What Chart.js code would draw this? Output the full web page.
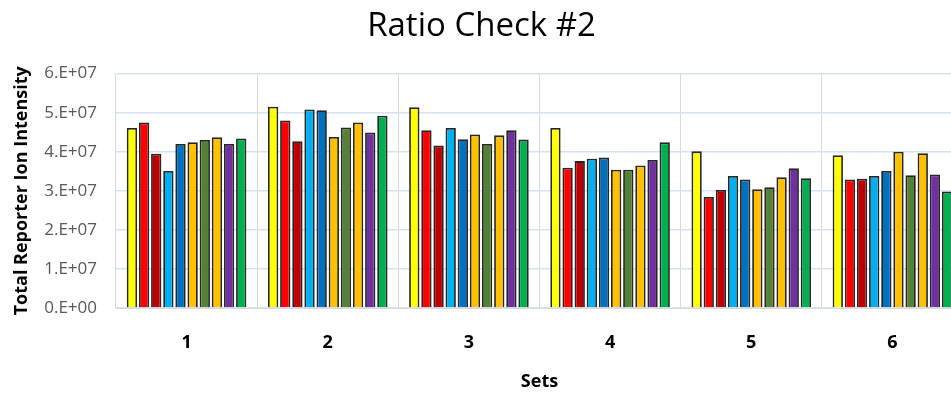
<!DOCTYPE html>
<html>
<head>
<meta charset="utf-8">
<script src="https://cdn.jsdelivr.net/npm/chart.js@4.4.0/dist/chart.umd.min.js"></script>
<style>
  html, body { margin: 0; padding: 0; background: #fff; overflow: hidden; }
  #wrap { width: 966px; height: 393px; }
</style>
</head>
<body>
<div id="wrap"><canvas id="ratioChart" width="966" height="393"></canvas></div>
<script>
// Sets on the x axis
const sets = ['1', '2', '3', '4', '5', '6'];

// Reporter channels (one bar colour each)
const channels = ['126', '127N', '127C', '128N', '128C', '129N', '129C', '130N', '130C', '131'];
const channelColors = ['#FFFF00', '#FF0000', '#C00000', '#00B0F0', '#0070C0',
                       '#FFC000', '#548235', '#FFC000', '#7030A0', '#00B050'];

// Total reporter ion intensity per channel, one value per set
const ch126  = [4.61e7, 5.15e7, 5.14e7, 4.61e7, 4.01e7, 3.91e7];
const ch127N = [4.75e7, 4.80e7, 4.55e7, 3.59e7, 2.84e7, 3.29e7];
const ch127C = [3.95e7, 4.27e7, 4.16e7, 3.76e7, 3.02e7, 3.31e7];
const ch128N = [3.51e7, 5.08e7, 4.61e7, 3.82e7, 3.38e7, 3.38e7];
const ch128C = [4.20e7, 5.06e7, 4.32e7, 3.85e7, 3.29e7, 3.51e7];
const ch129N = [4.24e7, 4.38e7, 4.44e7, 3.54e7, 3.04e7, 4.00e7];
const ch129C = [4.30e7, 4.62e7, 4.20e7, 3.54e7, 3.09e7, 3.40e7];
const ch130N = [4.37e7, 4.75e7, 4.42e7, 3.65e7, 3.35e7, 3.96e7];
const ch130C = [4.20e7, 4.49e7, 4.55e7, 3.79e7, 3.58e7, 3.42e7];
const ch131  = [4.34e7, 4.92e7, 4.31e7, 4.24e7, 3.32e7, 2.98e7];
const channelValues = [ch126, ch127N, ch127C, ch128N, ch128C, ch129N, ch129C, ch130N, ch130C, ch131];

// Y axis tick labels
const yTicks = [0, 1e7, 2e7, 3e7, 4e7, 5e7, 6e7];

// Excel style "6.E+07"
function sciLabel(v) {
  if (v === 0) return '0.E+00';
  const exp = Math.floor(Math.log10(v));
  const mant = Math.round(v / Math.pow(10, exp));
  return mant + '.E+' + String(exp).padStart(2, '0');
}

const datasets = channels.map((name, i) => ({
  label: name,
  data: channelValues[i],
  backgroundColor: channelColors[i],
  borderColor: '#262626',
  borderWidth: 1.8,
  borderSkipped: 'bottom',
  categoryPercentage: 0.86,
  barPercentage: 0.85,
}));

const ctx = document.getElementById('ratioChart').getContext('2d');
new Chart(ctx, {
  type: 'bar',
  data: { labels: sets, datasets: datasets },
  options: {
    responsive: false,
    animation: false,
    layout: { padding: { left: 0, right: 3, top: 0, bottom: 0 } },
    plugins: {
      legend: { display: false },
      tooltip: { enabled: false },
      title: {
        display: true,
        text: 'Ratio Check #2',
        color: '#000',
        font: { family: 'Open Sans', size: 33, weight: 'normal' },
        padding: { top: 7, bottom: 27 },
      },
    },
    scales: {
      x: {
        grid: { display: true, offset: true, color: '#D9D9D9', lineWidth: 1, drawTicks: false },
        border: { color: '#D9D9D9', width: 1 },
        ticks: {
          color: '#000',
          padding: 24,
          font: { family: 'Open Sans', size: 18, weight: 'bold' },
        },
        title: {
          display: true,
          text: 'Sets',
          color: '#000',
          font: { family: 'Open Sans', size: 18, weight: 'bold' },
          padding: { top: 8, bottom: 0 },
        },
        afterFit: (scale) => { scale.height = 85; },
      },
      y: {
        min: 0,
        max: 6e7,
        afterBuildTicks: (scale) => { scale.ticks = yTicks.map((v) => ({ value: v })); },
        grid: { color: '#D6E1F2', lineWidth: 1.5, drawTicks: false },
        border: { display: false },
        ticks: {
          color: '#595959',
          padding: 19,
          font: { family: 'Open Sans', size: 17 },
          callback: (v) => sciLabel(v),
        },
        title: {
          display: true,
          text: 'Total Reporter Ion Intensity',
          color: '#000',
          font: { family: 'Open Sans', size: 18, weight: 'bold' },
          padding: { top: 11, bottom: 4 },
        },
        afterFit: (scale) => { scale.width = 116; },
      },
    },
  },
});
</script>
</body>
</html>
